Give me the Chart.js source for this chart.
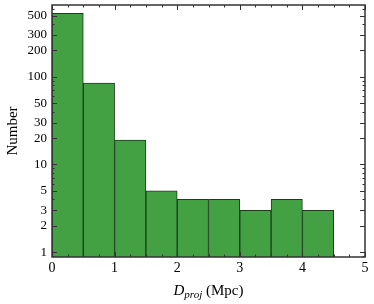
<!DOCTYPE html>
<html>
<head>
<meta charset="utf-8">
<script src="https://cdn.jsdelivr.net/npm/chart.js@4/dist/chart.umd.min.js"></script>
<style>
  html, body { margin: 0; padding: 0; background: #fff; }
  #wrap { width: 374px; height: 304px; }
</style>
</head>
<body>
<div id="wrap"><canvas id="myChart"></canvas></div>
<script>
// histogram bins (bin centres, Mpc) and counts
const binCenters = [0.25, 0.75, 1.25, 1.75, 2.25, 2.75, 3.25, 3.75, 4.25];
const counts = [530, 85, 19, 5, 4, 4, 3, 4, 3];
const yTickValues = [1, 2, 3, 5, 10, 20, 30, 50, 100, 200, 300, 500];
const xTickValues = [0, 1, 2, 3, 4, 5];

const serif = '"Liberation Serif", "DejaVu Serif", serif';

// inward ticks on all four sides + frame + x title with subscript
const frameTicks = {
    id: 'frameTicks',
    afterDraw(chart) {
        const c = chart.ctx;
        const a = chart.chartArea;
        const xs = chart.scales.x, ys = chart.scales.y;
        c.save();
        c.strokeStyle = '#333';
        c.lineWidth = 1;
        c.beginPath();
        // x ticks, major every 1, minor every 0.25
        for (let i = 0; i <= 20; i++) {
            const v = i * 0.25;
            const px = Math.round(xs.getPixelForValue(v)) + 0.5;
            const len = (i % 4 === 0) ? 5 : 2.5;
            c.moveTo(px, a.bottom); c.lineTo(px, a.bottom - len);
            c.moveTo(px, a.top); c.lineTo(px, a.top + len);
        }
        // y ticks, log minors
        for (let d = 0.1; d <= 1000; d *= 10) {
            for (let m = 1; m <= 9; m++) {
                const v = m * d;
                if (v < ys.min || v > ys.max) continue;
                const py = Math.round(ys.getPixelForValue(v)) + 0.5;
                const major = yTickValues.some(t => Math.abs(t - v) / t < 1e-6);
                const len = major ? 5 : 2.5;
                c.moveTo(a.left, py); c.lineTo(a.left + len, py);
                c.moveTo(a.right, py); c.lineTo(a.right - len, py);
            }
        }
        c.stroke();
        c.lineWidth = 1.5;
        c.strokeRect(a.left, a.top, a.right - a.left, a.bottom - a.top);

        // x axis title: D_proj (Mpc)
        c.fillStyle = '#000';
        c.textBaseline = 'alphabetic';
        const cx = (a.left + a.right) / 2;
        const y0 = 295;
        const parts = [
            { t: 'D', f: 'italic 15px ' + serif, dy: 0 },
            { t: 'proj', f: 'italic 11px ' + serif, dy: 3 },
            { t: ' (Mpc)', f: '15px ' + serif, dy: 0 }
        ];
        let w = 0;
        parts.forEach(p => { c.font = p.f; p.w = c.measureText(p.t).width; w += p.w; });
        let x = cx - w / 2;
        c.textAlign = 'left';
        parts.forEach(p => { c.font = p.f; c.fillText(p.t, x, y0 + p.dy); x += p.w; });
        c.restore();
    }
};

const data = {
    datasets: [{
        label: 'Number',
        data: binCenters.map((x, i) => ({ x: x, y: counts[i] })),
        backgroundColor: '#43a043',
        borderColor: '#1d3d1d',
        borderWidth: 1,
        barPercentage: 1.0,
        categoryPercentage: 1.0,
        base: 0.5
    }]
};

const options = {
    responsive: true,
    maintainAspectRatio: false,
    animation: false,
    layout: { padding: { left: 4, right: 9, top: 5, bottom: 0 } },
    plugins: { legend: { display: false }, tooltip: { enabled: false } },
    scales: {
        x: {
            type: 'linear',
            min: 0, max: 5,
            offset: false,
            grid: { display: false, drawTicks: false },
            border: { display: false },
            afterBuildTicks(s) { s.ticks = xTickValues.map(v => ({ value: v })); },
            afterFit(s) { s.height = 47; s.paddingLeft = 0; s.paddingRight = 0; },
            ticks: {
                color: '#000',
                padding: 3,
                font: { family: serif, size: 14 },
                callback: v => String(v)
            }
        },
        y: {
            type: 'logarithmic',
            min: 0.88, max: 660,
            grid: { display: false, drawTicks: false },
            border: { display: false },
            afterBuildTicks(s) { s.ticks = yTickValues.map(v => ({ value: v })); },
            afterFit(s) { s.width = 48; s.paddingTop = 0; s.paddingBottom = 0; },
            title: {
                display: true,
                text: 'Number',
                color: '#000',
                font: { family: serif, size: 15 },
                padding: { top: 0, bottom: 2 }
            },
            ticks: {
                color: '#000',
                padding: 5,
                font: { family: serif, size: 13 },
                callback: v => String(v)
            }
        }
    }
};

const ctx = document.getElementById('myChart').getContext('2d');
const myChart = new Chart(ctx, {
    type: 'bar',
    data: data,
    options: options,
    plugins: [frameTicks]
});
</script>
</body>
</html>
